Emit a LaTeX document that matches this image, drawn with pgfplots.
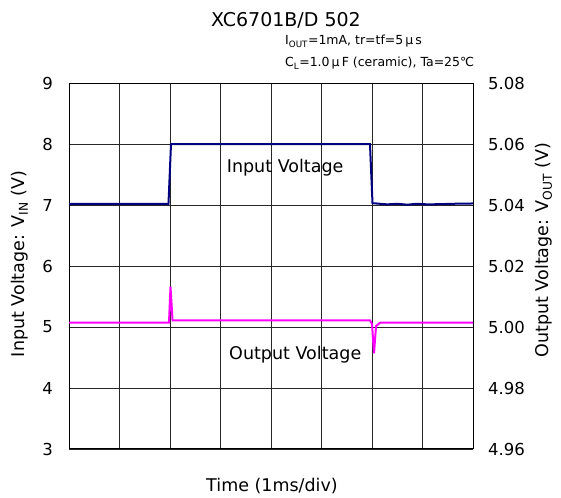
\documentclass[border=0pt]{standalone}
\usepackage{pgfplots}
\pgfplotsset{compat=1.18}
\usepackage{fontspec}
\setmainfont{DejaVu Sans}
\definecolor{inblue}{RGB}{0,0,128}
\definecolor{outmag}{RGB}{255,0,255}
\begin{document}
\begin{tikzpicture}
\path[use as bounding box] (-69pt,-48pt) rectangle (492pt,449pt);
\pgfplotsset{
 base/.style={width=404pt,height=366pt,scale only axis, at={(0,0)}, anchor=south west,
   xmin=0,xmax=8, /pgf/number format/assume math mode=true,
   tick label style={font=\fontsize{16.5}{18}\selectfont},
   major tick length=0pt}
}
\begin{axis}[base, ymin=3,ymax=9, ytick={3,4,5,6,7,8,9}, xtick={0,1,2,3,4,5,6,7,8}, xticklabels={},
  grid=major, major grid style={line width=0.7pt, color=black!85},
  axis line style={line width=1pt},
  yticklabel style={inner sep=0pt, xshift=-16pt}]
\addplot[inblue, line width=2pt] coordinates {
 (0,7.02) (1.97,7.02) (2.02,8.0) (5.96,8.0) (6.01,7.03) (6.3,7.01) (6.5,7.02) (6.7,7.005) (6.9,7.02) (7.1,7.01) (7.4,7.015) (7.6,7.02) (8,7.025)};
\node[anchor=base, font=\fontsize{17.5}{20}\selectfont] at (axis cs:4.28,7.54) {Input Voltage};
\node[anchor=base, font=\fontsize{17.5}{20}\selectfont] at (axis cs:4.48,4.47) {Output Voltage};
\end{axis}
\begin{axis}[base, ymin=4.96, ymax=5.08, ytick={4.96,4.98,5.00,5.02,5.04,5.06,5.08},
  axis y line*=right, axis x line=none, axis line style={line width=1pt},
  yticklabel style={inner sep=0pt, xshift=15pt, /pgf/number format/.cd, fixed, fixed zerofill, precision=2}]
\addplot[outmag, line width=2pt] coordinates {
 (0,5.0014) (1.98,5.0014) (2.01,5.0132) (2.05,5.0022) (5.96,5.0022) (6.0,5.0010) (6.04,4.9914) (6.08,5.0003) (6.16,5.0014) (8,5.0014)};
\end{axis}
\node[anchor=base, font=\fontsize{19}{21}\selectfont] at (217pt,422pt) {XC6701B/D 502};
\node[anchor=base west, inner sep=0pt, font=\fontsize{12.5}{14}\selectfont] at (216pt,404pt) {I\textsubscript{OUT}=1mA, tr=tf=5\,μ\,s};
\node[anchor=base west, inner sep=0pt, font=\fontsize{12.5}{14}\selectfont] at (216pt,382pt) {C\textsubscript{L}=1.0\,μ\,F (ceramic), Ta=25℃};
\node[anchor=base, font=\fontsize{17.5}{20}\selectfont] at (203pt,-42pt) {Time (1ms/div)};
\node[rotate=90, font=\fontsize{17.5}{20}\selectfont] at (-49pt,185pt) {Input Voltage: V\textsubscript{IN} (V)};
\node[rotate=90, font=\fontsize{17.5}{20}\selectfont] at (475pt,199pt) {Output Voltage: V\textsubscript{OUT} (V)};
\end{tikzpicture}
\end{document}
